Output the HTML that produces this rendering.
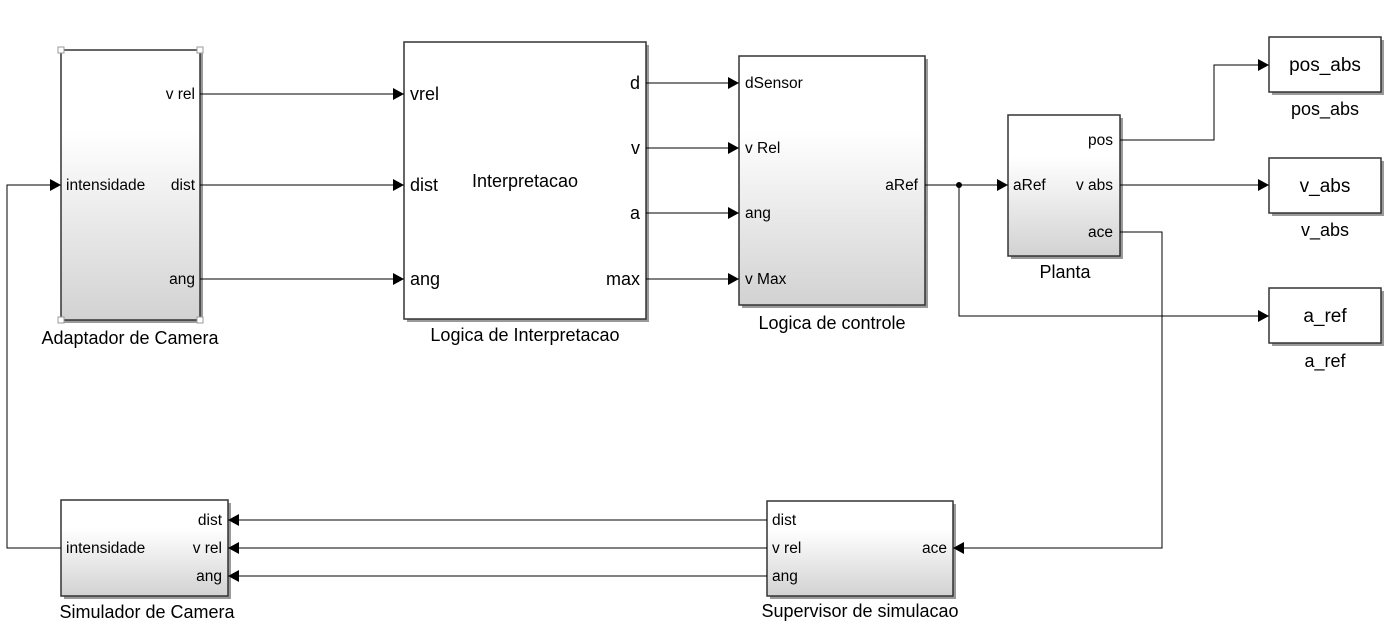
<!DOCTYPE html>
<html><head><meta charset="utf-8"><style>
html,body{margin:0;padding:0;background:#fff}
svg{display:block;font-family:"Liberation Sans",Arial,sans-serif}
</style></head><body>
<svg width="1390" height="637" viewBox="0 0 1390 637" xmlns="http://www.w3.org/2000/svg">
<defs>
<linearGradient id="g" x1="0" y1="0" x2="0" y2="1">
<stop offset="0" stop-color="#fff"/><stop offset="0.3" stop-color="#fff"/><stop offset="1" stop-color="#d2d2d2"/>
</linearGradient>
<marker id="a" markerWidth="12" markerHeight="12" refX="11" refY="6" orient="auto" markerUnits="userSpaceOnUse">
<path d="M0,0 L11,6 L0,12 z" fill="#000"/></marker>
</defs>
<g fill="#000">
<g fill="#9a9a9a">
<rect x="64" y="53" width="139" height="270"/>
<rect x="407" y="45" width="242" height="277"/>
<rect x="742" y="59" width="186" height="249"/>
<rect x="1011" y="118" width="112" height="141"/>
<rect x="1272" y="40" width="112" height="55"/>
<rect x="1272" y="161" width="112" height="55"/>
<rect x="1272" y="291" width="112" height="55"/>
<rect x="64" y="503" width="167" height="96"/>
<rect x="770" y="504" width="186" height="95"/>
</g>
<g stroke="#333" stroke-width="1.5">
<rect x="61" y="50" width="139" height="270" fill="url(#g)"/>
<rect x="404" y="42" width="242" height="277" fill="#fff"/>
<rect x="739" y="56" width="186" height="249" fill="url(#g)"/>
<rect x="1008" y="115" width="112" height="141" fill="url(#g)"/>
<rect x="1269" y="37" width="112" height="55" fill="#fff"/>
<rect x="1269" y="158" width="112" height="55" fill="#fff"/>
<rect x="1269" y="288" width="112" height="55" fill="#fff"/>
<rect x="61" y="500" width="167" height="96" fill="url(#g)"/>
<rect x="767" y="501" width="186" height="95" fill="url(#g)"/>
</g>
<g fill="#fff" stroke="#999" stroke-width="1">
<rect x="58" y="47" width="6" height="6"/><rect x="197" y="47" width="6" height="6"/>
<rect x="58" y="317" width="6" height="6"/><rect x="197" y="317" width="6" height="6"/>
</g>
<g stroke="#000" stroke-width="1" fill="none" marker-end="url(#a)">
<path d="M200,94H404"/><path d="M200,185H404"/><path d="M200,279H404"/>
<path d="M646,83H739"/><path d="M646,148H739"/><path d="M646,213H739"/><path d="M646,279H739"/>
<path d="M925,185H1008"/>
<path d="M959,185V316H1269"/>
<path d="M1120,140H1214V65H1269"/>
<path d="M1120,185H1269"/>
<path d="M1120,232H1162V548H953"/>
<path d="M767,520H228"/><path d="M767,548H228"/><path d="M767,576H228"/>
<path d="M61,548H7V185H61"/>
</g>
<circle cx="959" cy="185" r="3"/>
<g text-anchor="end" font-size="15.5">
<text x="195" y="99">v rel</text><text x="195" y="190">dist</text><text x="195" y="284">ang</text>
<text x="640" y="89" font-size="18">d</text><text x="640" y="154" font-size="18">v</text><text x="640" y="219" font-size="18">a</text><text x="640" y="285" font-size="18">max</text>
<text x="918" y="190">aRef</text>
<text x="1113" y="145">pos</text><text x="1113" y="190">v abs</text><text x="1113" y="237">ace</text>
<text x="222" y="525">dist</text><text x="222" y="553">v rel</text><text x="222" y="581">ang</text>
<text x="947" y="553">ace</text>
</g>
<g font-size="15.5">
<text x="66" y="190">intensidade</text>
<text x="410" y="100" font-size="18">vrel</text><text x="410" y="191" font-size="18">dist</text><text x="410" y="285" font-size="18">ang</text>
<text x="745" y="88">dSensor</text><text x="745" y="153">v Rel</text><text x="745" y="218">ang</text><text x="745" y="284">v Max</text>
<text x="1013" y="190">aRef</text>
<text x="66" y="553">intensidade</text>
<text x="772" y="525">dist</text><text x="772" y="553">v rel</text><text x="772" y="581">ang</text>
</g>
<g text-anchor="middle" font-size="18">
<text x="525" y="187">Interpretacao</text>
<text x="1325" y="71" font-size="19">pos_abs</text><text x="1325" y="192" font-size="19">v_abs</text><text x="1325" y="322" font-size="19">a_ref</text>
<text x="130" y="344">Adaptador de Camera</text>
<text x="525" y="341">Logica de Interpretacao</text>
<text x="832" y="329">Logica de controle</text>
<text x="1065" y="278">Planta</text>
<text x="1325" y="115">pos_abs</text><text x="1325" y="236">v_abs</text><text x="1325" y="367">a_ref</text>
<text x="147" y="618">Simulador de Camera</text>
<text x="860" y="617">Supervisor de simulacao</text>
</g>
</g>
</svg>
</body></html>
